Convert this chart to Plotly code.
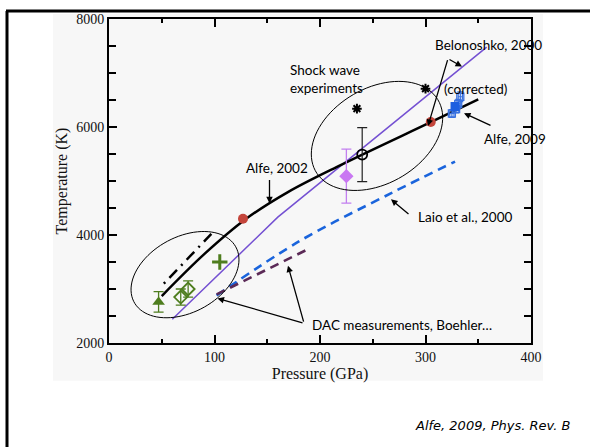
import numpy as np
import plotly.graph_objects as go

# ---------------- data (pressure GPa, temperature K) ----------------
alfe2002_p = [50, 90, 130, 170, 220, 305, 350]
alfe2002_t = [2870, 3640, 4300, 4800, 5300, 6090, 6510]

dashdot_p = [52, 97]
dashdot_t = [3100, 4020]

belonoshko_p = [60, 160, 358]
belonoshko_t = [2440, 4330, 7480]

laio_p = [102, 180, 268, 328]
laio_t = [2880, 3880, 4780, 5360]

boehler_p = [102, 189]
boehler_t = [2900, 3740]

red_p = [127, 305]
red_t = [4300, 6092]

tri_p = [47]
tri_t = [2760]
tri_err = [190]

dia_p = [68, 75]
dia_t = [2850, 3000]
dia_err = [150, 150]

plus_p = [105]
plus_t = [3500]

pink_p = [225]
pink_t = [5090]
pink_err = [500]

circ_p = [240]
circ_t = [5490]
circ_err = [500]

star_p = [235, 300]
star_t = [6340, 6710]

blue_open_p = [325, 329, 331, 333]
blue_open_t = [6250, 6330, 6430, 6560]
blue_open_ex = [2, 2, 2, 2]
blue_open_ey = [70, 70, 80, 90]
blue_fill_p = [328]
blue_fill_t = [6380]

# ---------------- geometry helpers (plot area in pixels) ----------------
L, R, T, B = 109, 531, 16, 343
W, H = 590, 447
XMIN, XMAX, YMIN, YMAX = 0, 400, 2000, 8000


def px2x(px):
    return XMIN + (px - L) / (R - L) * (XMAX - XMIN)


def py2y(py):
    return YMAX - (py - T) / (B - T) * (YMAX - YMIN)


def ellipse_path(cx, cy, a, b, ang_deg, n=90):
    th = np.linspace(0, 2 * np.pi, n)
    ang = np.deg2rad(ang_deg)
    xs = cx + a * np.cos(th) * np.cos(ang) - b * np.sin(th) * np.sin(ang)
    ys = cy - (a * np.cos(th) * np.sin(ang) + b * np.sin(th) * np.cos(ang))
    pts = [(px2x(x), py2y(y)) for x, y in zip(xs, ys)]
    return "M " + " L ".join(f"{x:.3f},{y:.3f}" for x, y in pts) + " Z"


fig = go.Figure()

BLACK = "#000000"
GREEN = "#4e7d1e"

fig.add_trace(go.Scatter(x=belonoshko_p, y=belonoshko_t, mode="lines",
                         line=dict(color="#7450d2", width=1.5)))
fig.add_trace(go.Scatter(x=laio_p, y=laio_t, mode="lines",
                         line=dict(color="#1a64dc", width=2.6, dash="9px,6px", shape="spline")))
fig.add_trace(go.Scatter(x=boehler_p, y=boehler_t, mode="lines",
                         line=dict(color="#5b2a57", width=2.6, dash="9px,6px")))
fig.add_trace(go.Scatter(x=alfe2002_p, y=alfe2002_t, mode="lines",
                         line=dict(color=BLACK, width=2.5, shape="spline", smoothing=1.0)))
fig.add_trace(go.Scatter(x=dashdot_p, y=dashdot_t, mode="lines",
                         line=dict(color=BLACK, width=2.5, dash="2px,6px,11px,6px")))

fig.add_trace(go.Scatter(x=red_p, y=red_t, mode="markers",
                         marker=dict(color="#c4453b", size=10)))
fig.add_trace(go.Scatter(x=tri_p, y=tri_t, mode="markers",
                         error_y=dict(type="data", array=tri_err, color=GREEN, thickness=1.3, width=5),
                         marker=dict(symbol="triangle-up", color=GREEN, size=11)))
fig.add_trace(go.Scatter(x=dia_p, y=dia_t, mode="markers",
                         error_y=dict(type="data", array=dia_err, color=GREEN, thickness=1.3, width=5),
                         marker=dict(symbol="diamond-open", color=GREEN, size=10, line=dict(width=1.8))))
fig.add_trace(go.Scatter(x=plus_p, y=plus_t, mode="markers",
                         marker=dict(symbol="cross-thin-open", color=GREEN, size=11,
                                     line=dict(width=3, color=GREEN))))
fig.add_trace(go.Scatter(x=pink_p, y=pink_t, mode="markers",
                         error_y=dict(type="data", array=pink_err, color="#c27ff0", thickness=1.3, width=5),
                         marker=dict(symbol="diamond", color="#c977f2", size=11)))
fig.add_trace(go.Scatter(x=circ_p, y=circ_t, mode="markers",
                         error_y=dict(type="data", array=circ_err, color="#222222", thickness=1.2, width=5),
                         marker=dict(symbol="circle-open", color=BLACK, size=10, line=dict(width=1.8))))
fig.add_trace(go.Scatter(x=star_p, y=star_t, mode="markers",
                         marker=dict(symbol="asterisk-open", color=BLACK, size=8, line=dict(width=2, color=BLACK))))
fig.add_trace(go.Scatter(x=blue_open_p, y=blue_open_t, mode="markers",
                         error_x=dict(type="data", array=blue_open_ex, color="#3a72e0", thickness=1.2, width=3),
                         error_y=dict(type="data", array=blue_open_ey, color="#3a72e0", thickness=1.2, width=3),
                         marker=dict(symbol="square-open", color="#3a72e0", size=7, line=dict(width=1.3))))
fig.add_trace(go.Scatter(x=blue_fill_p, y=blue_fill_t, mode="markers",
                         marker=dict(symbol="square", color="#1c5fe0", size=9)))

shapes = [
    # light grey picture background
    dict(type="rect", xref="paper", yref="paper",
         x0=(53 - L) / (R - L), x1=(543 - L) / (R - L),
         y0=(B - 381) / (B - T), y1=(B - 11) / (B - T),
         fillcolor="#f7f7f7", line=dict(width=0), layer="below"),
    # slide frame
    dict(type="line", xref="paper", yref="paper",
         x0=(6 - L) / (R - L), x1=(W - L) / (R - L),
         y0=(B - 8) / (B - T), y1=(B - 8) / (B - T), line=dict(color="black", width=3)),
    dict(type="line", xref="paper", yref="paper",
         x0=(7 - L) / (R - L), x1=(7 - L) / (R - L),
         y0=(B - 8) / (B - T), y1=(B - W) / (B - T), line=dict(color="black", width=3)),
    # ellipses
    dict(type="path", xref="x", yref="y", path=ellipse_path(185, 274, 58, 38, 29),
         line=dict(color="black", width=1)),
    dict(type="path", xref="x", yref="y", path=ellipse_path(377, 134, 71, 48, 31),
         line=dict(color="black", width=1)),
]

TXT = dict(family="Lato, 'Open Sans', sans-serif", size=13.5, color="black")
annotations = []


def label(text, x, y, align="left"):
    annotations.append(dict(text=text, x=x, y=y, xref="x", yref="y", showarrow=False,
                            xanchor="left", yanchor="middle", align=align, font=TXT))


label("Belonoshko, 2000", px2x(433), py2y(42))
label("Shock wave<br>experiments", px2x(288), py2y(77))
label("(corrected)", px2x(442), py2y(87))
label("Alfe, 2009", px2x(482), py2y(137))
label("Alfe, 2002", px2x(244), py2y(166))
label("Laio et al., 2000", px2x(416), py2y(216))
label("DAC measurements, Boehler…", px2x(310), py2y(325))


def arrow(tx, ty, hx, hy):
    annotations.append(dict(x=px2x(hx), y=py2y(hy), ax=px2x(tx), ay=py2y(ty),
                            xref="x", yref="y", axref="x", ayref="y", text="",
                            showarrow=True, arrowhead=2, arrowsize=1, arrowwidth=1.3,
                            arrowcolor="black", standoff=0, startstandoff=0))


arrow(448, 56, 462, 64)
arrow(448, 56, 428, 124)
arrow(492, 124, 464, 111)
arrow(269.5, 177, 269.5, 202)
arrow(410, 214, 391, 198)
arrow(304, 323, 217.5, 298)
arrow(304, 323, 288, 265)

annotations.append(dict(text="<i>Alfe, 2009, Phys. Rev. B</i>", xref="paper", yref="paper",
                        x=(572 - L) / (R - L), y=(B - 426) / (B - T), xanchor="right", yanchor="middle",
                        showarrow=False, font=dict(family="DejaVu Sans, sans-serif", size=13, color="black")))

SERIF = "Liberation Serif, Times New Roman, serif"
axis_common = dict(showline=True, linecolor="black", linewidth=2, mirror="ticks",
                   ticks="inside", ticklen=8, tickwidth=1.5, tickcolor="black",
                   showgrid=False, zeroline=False,
                   tickfont=dict(family=SERIF, size=14, color="#111111"))

fig.update_layout(
    width=W, height=H,
    margin=dict(l=L, r=W - R, t=T, b=H - B),
    paper_bgcolor="white", plot_bgcolor="#f7f7f7",
    showlegend=False,
    xaxis=dict(range=[XMIN, XMAX], tickvals=[0, 100, 200, 300, 400],
               minor=dict(dtick=50, ticks="inside", ticklen=4, tickcolor="black", tickwidth=1.5),
               title=dict(text="Pressure (GPa)", font=dict(family=SERIF, size=16, color="#111111"), standoff=4),
               **axis_common),
    yaxis=dict(range=[YMIN, YMAX], tickvals=[2000, 4000, 6000, 8000],
               minor=dict(dtick=500, ticks="inside", ticklen=7, tickcolor="black", tickwidth=1.5),
               title=dict(text="Temperature (K)", font=dict(family=SERIF, size=16, color="#111111"), standoff=5),
               **axis_common),
    shapes=shapes, annotations=annotations,
)

fig.write_html("out.html")
